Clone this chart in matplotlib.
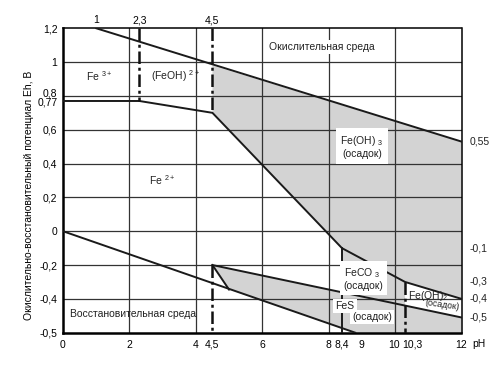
import numpy as np
import matplotlib
matplotlib.use("Agg")
import matplotlib.pyplot as plt
from matplotlib.transforms import ScaledTranslation

plt.rcParams['font.family'] = ['Liberation Sans', 'DejaVu Sans']
plt.rcParams['mathtext.default'] = 'regular'
plt.rcParams['font.size'] = 7.5
plt.rcParams['text.color'] = '#222222'

# axis ticks
ph_ticks = [0, 2, 4, 4.5, 6, 8, 8.4, 9, 10, 10.3, 12]
ph_top_ticks = [1, 2.3, 4.5]
eh_ticks = [1.2, 1, 0.8, 0.77, 0.6, 0.4, 0.2, 0, -0.2, -0.4, -0.5]
eh_right_pos = [0.53, -0.1, -0.3, -0.4, -0.455]
eh_right_labels = ['0,55', '-0,1', '-0,3', '-0,4', '-0,5']
grid_ph = [2, 4, 6, 8, 10]
grid_eh = [1, 0.8, 0.6, 0.4, 0.2, 0, -0.2, -0.4]

# boundaries (pH, Eh)
o2_ph = [1, 12]
o2_eh = [1.2, 0.53]
fe2_ph = [0, 2.3, 4.5, 8.4, 10.3, 12]
fe2_eh = [0.77, 0.77, 0.7, -0.1, -0.3, -0.4]
h2_ph = [0, 8.8]
h2_eh = [0, -0.5]
fes_top_ph = [4.5, 12]
fes_top_eh = [-0.2, -0.455]
fes_left_ph = [4.5, 5.0]
fes_left_eh = [-0.2, -0.345]
feco3_left_ph = [8.4, 8.4]
feco3_left_eh = [-0.1, -0.5]

# dash-dot verticals: (pH, Eh from, Eh to)
dash_ph = [2.3, 4.5, 4.5, 10.3]
dash_from = [1.2, 1.2, -0.2, -0.3]
dash_to = [0.77, 0.7, -0.5, -0.5]

# shaded (precipitate) regions
feoh3_ph = [4.5, 12, 12, 10.3, 8.4, 4.5]
feoh3_eh = [0.98, 0.53, -0.4, -0.3, -0.1, 0.7]
feco3_ph = [8.4, 10.3, 10.3, 8.4]
feco3_eh = [-0.1, -0.3, -0.42, -0.353]
fes_ph = [4.5, 12, 12, 8.8, 5.0]
fes_eh = [-0.2, -0.455, -0.5, -0.5, -0.345]


def fwd(y):
    y = np.asarray(y, dtype=float)
    return np.where(y >= -0.4, y, -0.4 + (y + 0.4) * 2)


def inv(t):
    t = np.asarray(t, dtype=float)
    return np.where(t >= -0.4, t, -0.4 + (t + 0.4) / 2)


def fmt(v):
    return f"{v:g}".replace('.', ',')


fig = plt.figure(figsize=(5, 3.69), dpi=100)
ax = fig.add_axes([0.126, 0.0984, 0.797, 0.825])
ax.set_yscale('function', functions=(fwd, inv))
ax.set_xlim(0, 12)
ax.set_ylim(-0.5, 1.2)

grey = '#d3d3d3'
for xs, ys in [(feoh3_ph, feoh3_eh), (feco3_ph, feco3_eh), (fes_ph, fes_eh)]:
    ax.fill(xs, ys, color=grey, lw=0, zorder=0.5)

for v in grid_eh:
    ax.axhline(v, color='#333333', lw=0.9, zorder=1)
for v in grid_ph:
    ax.axvline(v, color='#333333', lw=0.9, zorder=1)

line_kw = dict(color='#1a1a1a', lw=1.4, zorder=3)
ax.plot(o2_ph, o2_eh, **line_kw)
ax.plot(fe2_ph, fe2_eh, **line_kw)
ax.plot(h2_ph, h2_eh, **line_kw)
ax.plot(fes_top_ph, fes_top_eh, **line_kw)
ax.plot(fes_left_ph, fes_left_eh, **line_kw)
ax.plot(feco3_left_ph, feco3_left_eh, **line_kw)
for x, y0, y1 in zip(dash_ph, dash_from, dash_to):
    ax.plot([x, x], [y0, y1], color='#111111', lw=1.8,
            ls=(0, (5, 1.5, 1.2, 1.5)), zorder=3)

ax.set_xticks(ph_ticks, labels=[fmt(v) for v in ph_ticks])
ax.set_yticks(eh_ticks, labels=[fmt(v) for v in eh_ticks])
ax.tick_params(length=0)
ax.tick_params(axis='x', pad=5)
ax.tick_params(axis='y', pad=4)

# nudge crowded tick labels apart (0,8 / 0,77 and 10 / 10,3)
def nudge(tick, dx, dy):
    lab = tick.label1
    lab.set_transform(lab.get_transform() + ScaledTranslation(dx / 72, dy / 72, fig.dpi_scale_trans))

yt = ax.yaxis.get_major_ticks()
nudge(yt[eh_ticks.index(0.8)], 0, 2.5)
nudge(yt[eh_ticks.index(0.77)], 0, -0.5)
xt = ax.xaxis.get_major_ticks()
nudge(xt[ph_ticks.index(10.3)], 5, 0)
nudge(xt[ph_ticks.index(10)], -1, 0)

top = ax.secondary_xaxis('top')
top.set_xticks(ph_top_ticks, labels=[fmt(v) for v in ph_top_ticks])
top.tick_params(length=0, pad=2)
top.spines['top'].set_visible(False)

for v, s in zip(eh_right_pos, eh_right_labels):
    ax.text(1.02, v, s, transform=ax.get_yaxis_transform(), ha='left', va='center')

for side in ['left', 'bottom']:
    ax.spines[side].set_linewidth(1.8)
for side in ['top', 'right']:
    ax.spines[side].set_linewidth(1.1)

ax.set_xlabel('pH', ha='left', va='top')
ax.xaxis.set_label_coords(1.028, -0.022)
ax.set_ylabel('Окислительно-восстановительный потенциал Eh, В', va='center')
ax.yaxis.set_label_coords(-0.085, 0.45)

box = dict(fc='white', ec='none', pad=1.5)
ax.text(1.1, 0.92, 'Fe $^{3+}$', ha='center', va='center', zorder=4)
ax.text(3.4, 0.92, '(FeOH) $^{2+}$', ha='center', va='center', zorder=4)
ax.text(3.0, 0.3, 'Fe $^{2+}$', ha='center', va='center', zorder=4)
ax.text(7.8, 1.09, 'Окислительная среда', ha='center', va='center', bbox=box, zorder=4)
ax.text(9.0, 0.5, 'Fe(OH) $_3$\n(осадок)', ha='center', va='center',
        multialignment='center', bbox=dict(fc='white', ec='none', pad=3), zorder=4)
ax.text(8.45, -0.28, 'FeCO $_3$\n(осадок)', ha='left', va='center',
        bbox=dict(fc='white', ec='none', pad=2.5), zorder=4)
ax.text(8.2, -0.42, 'FeS', ha='left', va='center', bbox=box, zorder=4)
ax.text(8.7, -0.454, '(осадок)', ha='left', va='center', bbox=box, zorder=4)
ax.text(10.4, -0.385, 'Fe(OH)$_2$', ha='left', va='center', zorder=4)
ax.text(11.97, -0.418, '(осадок)', ha='right', va='center', fontsize=6.5,
        rotation=-8, zorder=4)
ax.text(2.1, -0.445, 'Восстановительная среда', ha='center', va='center', zorder=4)

fig.savefig('out.png', dpi=100)
